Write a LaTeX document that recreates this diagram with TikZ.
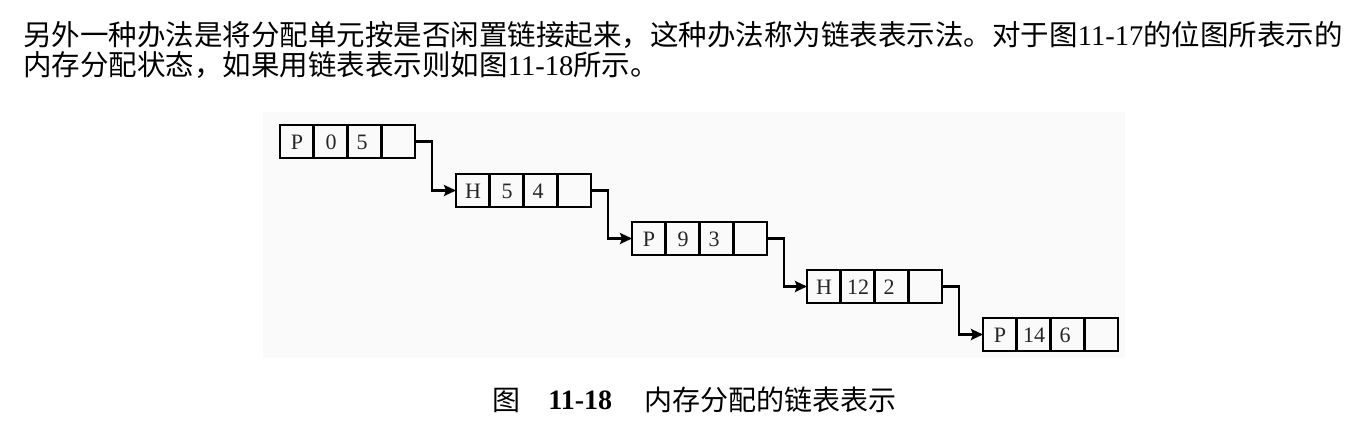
\documentclass[tikz,border=0pt]{standalone}
\usepackage{fontspec}
\setmainfont{Liberation Serif}
\newfontfamily\cjk{Noto Sans CJK SC}
\usetikzlibrary{arrows.meta}
\begin{document}
\begin{tikzpicture}[x=0.5pt,y=-0.5pt,
  rec/.style={draw, line width=1.3pt, minimum width=67.5pt, minimum height=16.5pt, inner sep=0pt, outer sep=0pt, anchor=north west},
  lbl/.style={font=\fontsize{11}{13}\selectfont, inner sep=0pt, text=black!85},
  link/.style={line width=1.3pt, -{Stealth[length=6pt,width=5.5pt,inset=1pt]}},
  para/.style={font=\cjk\fontsize{14.25}{16}\selectfont, inner sep=0pt, anchor=west},
  captext/.style={font=\cjk\fontsize{14}{16}\selectfont, inner sep=0pt, anchor=west}]
\useasboundingbox (0,0) rectangle (1360,428);
\fill[black!2] (263,112) rectangle (1125,358);
\node[para] (l1) at (23,35) {另外一种办法是将分配单元按是否闲置链接起来，这种办法称为链表表示法。对于图{\rmfamily 11-17}的位图所表示的};
\node[para] (l2) at (23,65) {内存分配状态，如果用链表表示则如图{\rmfamily 11-18}所示。};
\foreach \i/\x/\y/\a/\b/\c in {1/280/125/P/0/5, 2/456/174/H/5/4, 3/632/222/P/9/3, 4/807/270/H/12/2, 5/983/318/P/14/6}{
  \node[rec] (b\i) at (\x,\y) {};
  \draw[line width=1.3pt] (\x+33.75,\y) -- (\x+33.75,\y+33)
                        (\x+67.5,\y) -- (\x+67.5,\y+33)
                        (\x+101.25,\y) -- (\x+101.25,\y+33);
  \node[lbl] (b\i a) at (\x+17,\y+17) {\a};
  \node[lbl] (b\i b) at (\x+51,\y+17) {\b};
  \node[lbl] (b\i c) at (\x+82,\y+17) {\c};
}
\foreach \i/\j in {1/2, 2/3, 3/4, 4/5}{
  \draw[link] (b\i.east) -- ++(17,0) |- (b\j.west);
}
\node[captext] (c1) at (492,400) {图};
\node[inner sep=0pt, anchor=west, font=\bfseries\fontsize{14}{16}\selectfont] (c2) at (548,400) {11-18};
\node[captext] (c3) at (644,400) {内存分配的链表表示};
\end{tikzpicture}
\end{document}
